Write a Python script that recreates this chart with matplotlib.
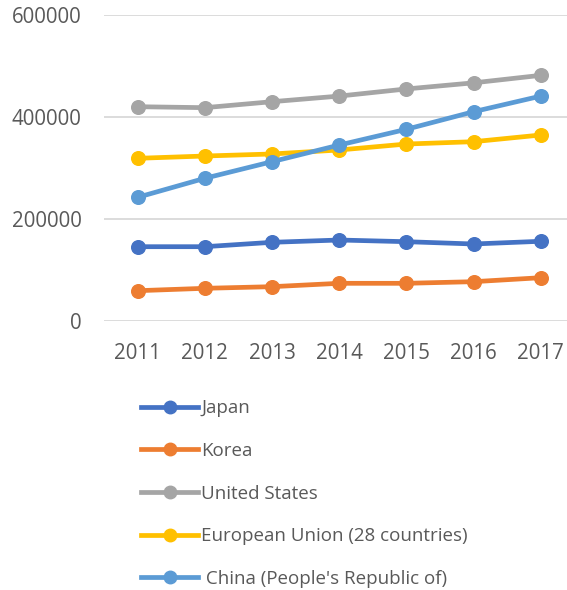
import numpy as np
import matplotlib.pyplot as plt
from matplotlib.lines import Line2D

years = ['2011', '2012', '2013', '2014', '2015', '2016', '2017']
japan = [145700, 145700, 154300, 158800, 155500, 151000, 156300]
korea = [59400, 64100, 67300, 73900, 73900, 77100, 84900]
usa = [420200, 418300, 430000, 441000, 455000, 467000, 481700]
eu28 = [319000, 323500, 327500, 335300, 347000, 351600, 364700]
china = [242500, 279800, 312400, 345000, 375900, 410400, 441000]

series = [
    ('Japan', japan, '#4472C4'),
    ('Korea', korea, '#ED7D31'),
    ('United States', usa, '#A5A5A5'),
    ('European Union (28 countries)', eu28, '#FFC000'),
    (" China (People's Republic of)", china, '#5B9BD5'),
]

plt.rcParams['font.family'] = ['Open Sans', 'DejaVu Sans']
txt = '#595959'

fig = plt.figure(figsize=(5.67, 5.90), dpi=100)
# main axes: left edge at 104px, bottom gridline at 321px, top at 15px
ax = fig.add_axes([104/567, 1-321/590, (567-104)/567, (321-15)/590])

x = np.arange(len(years))
for name, vals, col in series:
    ax.plot(x, vals, color=col, lw=3.4, marker='o', ms=9.8, zorder=3)

ax.set_ylim(0, 600000)
ax.set_xlim(-0.5, 6.39)
ax.set_yticks([0, 200000, 400000, 600000])
ax.set_yticklabels(['0', '200000', '400000', '600000'])
ax.set_xticks(x)
ax.set_xticklabels(years)
ax.grid(axis='y', color='#D9D9D9', lw=1.3, zorder=0)
ax.set_axisbelow(True)
for s in ax.spines.values():
    s.set_visible(False)
ax.tick_params(axis='both', length=0, colors=txt, labelsize=14.8)
ax.tick_params(axis='y', pad=16)
ax.tick_params(axis='x', pad=16)

handles = [Line2D([0], [0], color=col, lw=3.4, marker='o', ms=9)
           for _, _, col in series]
labels = [name for name, _, _ in series]
leg = fig.legend(handles, labels, loc='upper left',
                 bbox_to_anchor=(124.5/567, 1-382.6/590), frameon=False,
                 fontsize=13.5, handlelength=3.04, handletextpad=0.16,
                 labelspacing=1.31, labelcolor=txt)

fig.savefig('out.png', dpi=100)
